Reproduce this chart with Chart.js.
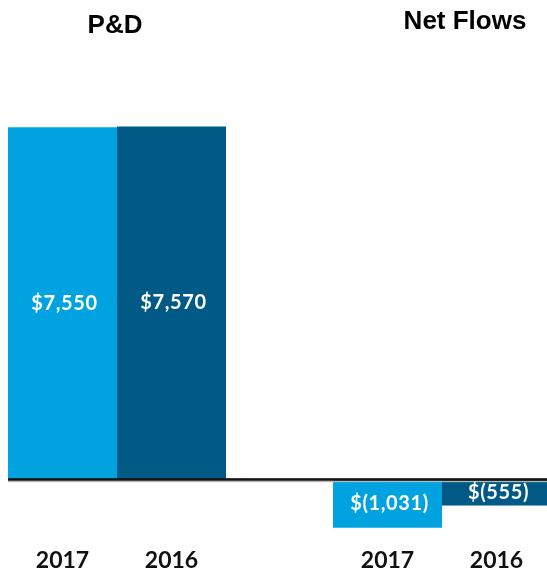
<!DOCTYPE html>
<html>
<head>
<meta charset="utf-8">
<script src="https://cdn.jsdelivr.net/npm/chart.js@4/dist/chart.umd.min.js"></script>
<style>
  html, body { margin: 0; padding: 0; background: #ffffff; }
  #wrap { width: 547px; height: 571px; position: relative; }
</style>
</head>
<body>
<div id="wrap"><canvas id="c"></canvas></div>
<script>
// ---- data ----
const groups = ['P&D', 'Net Flows'];
const seriesNames = ['2017', '2016'];
const values2017 = [7550, -1031];
const values2016 = [7570, -555];

const colors = ['#00A3E0', '#005A85'];

function fmtMoney(v) {
  const s = Math.abs(v).toLocaleString('en-US');
  return v < 0 ? '$(' + s + ')' : '$' + s;
}

const annotatePlugin = {
  id: 'annotate',
  afterDatasetsDraw(chart, args, opts) {
    const ctx = chart.ctx;
    const yScale = chart.scales.y;
    const xScale = chart.scales.x;
    const y0 = yScale.getPixelForValue(0);
    const first = chart.getDatasetMeta(0).data[0];
    const startX = first.x - first.width / 2;
    ctx.save();
    // baseline
    ctx.fillStyle = '#b8b8b8';
    ctx.fillRect(startX, y0 + 1, chart.width - startX, 1.5);
    ctx.fillStyle = '#141414';
    ctx.fillRect(startX, y0 - 1.5, chart.width - startX, 2.6);

    ctx.textAlign = 'center';
    ctx.textBaseline = 'middle';
    chart.data.datasets.forEach((ds, di) => {
      const meta = chart.getDatasetMeta(di);
      meta.data.forEach((el, i) => {
        const v = ds.data[i];
        ctx.font = 'bold 20px Lato';
        if ('letterSpacing' in ctx) ctx.letterSpacing = '0.6px';
        ctx.fillStyle = '#ffffff';
        ctx.fillText(fmtMoney(v), el.x + 2, (el.y + el.base) / 2);
        if ('letterSpacing' in ctx) ctx.letterSpacing = '0px';
        ctx.font = 'bold 23px Lato';
        ctx.fillStyle = '#111111';
        ctx.fillText(ds.label, el.x, chart.chartArea.bottom + 30);
      });
    });
    // group titles
    ctx.font = 'bold 26px "Liberation Sans"';
    ctx.fillStyle = '#000000';
    groups.forEach((g, i) => {
      ctx.fillText(g, xScale.getPixelForValue(i) + opts.dx[i], chart.chartArea.top - opts.dy[i]);
    });
    ctx.restore();
  }
};

new Chart(document.getElementById('c'), {
  type: 'bar',
  data: {
    labels: groups,
    datasets: [
      { label: seriesNames[0], data: values2017, backgroundColor: colors[0], borderWidth: 0, clip: false },
      { label: seriesNames[1], data: values2016, backgroundColor: colors[1], borderWidth: 0, clip: false }
    ]
  },
  options: {
    responsive: true,
    maintainAspectRatio: false,
    animation: false,
    layout: { padding: { left: 117, right: 105, top: 125, bottom: 40 } },
    datasets: { bar: { categoryPercentage: 0.6708, barPercentage: 1.0 } },
    scales: {
      x: { display: false, offset: false, grid: { display: false } },
      y: { display: false, min: -1100, max: 7600, grid: { display: false } }
    },
    plugins: {
      legend: { display: false },
      tooltip: { enabled: false },
      annotate: { dx: [-2, 23], dy: [99, 103] }
    }
  },
  plugins: [annotatePlugin]
});
</script>
</body>
</html>
